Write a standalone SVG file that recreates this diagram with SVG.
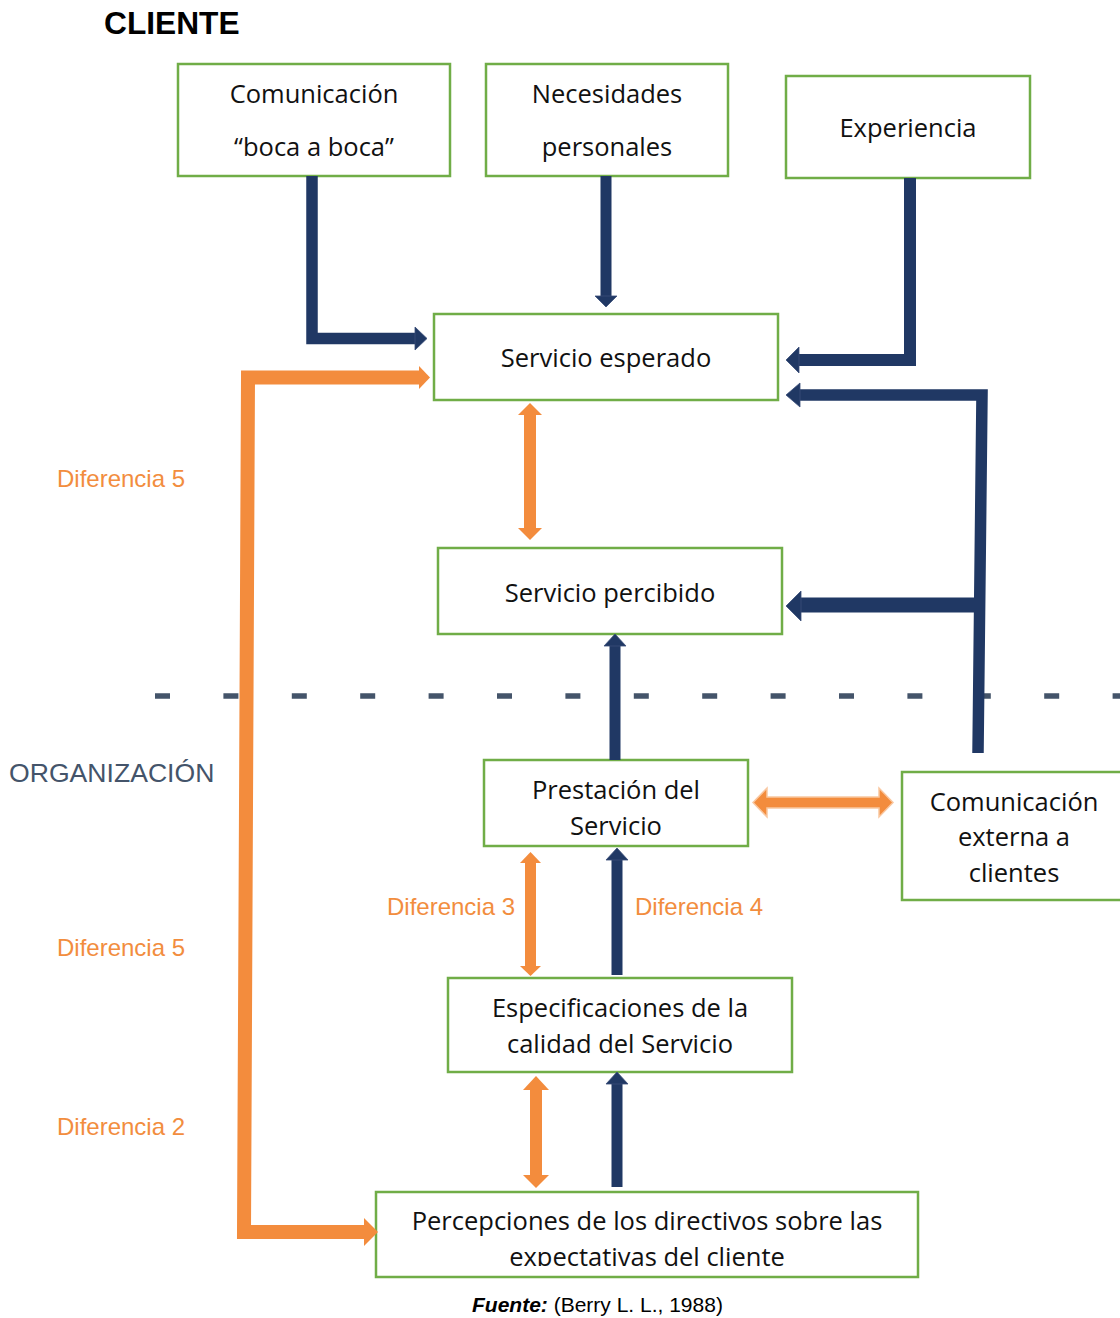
<svg xmlns="http://www.w3.org/2000/svg" width="1120" height="1318" viewBox="0 0 1120 1318">
  <style>
    .box { fill: #ffffff; stroke: #70AD47; stroke-width: 2.5; }
    .bt { font-family: "Open Sans", "Noto Sans", sans-serif; font-size: 25.5px; fill: #111111; text-anchor: middle; }
    .dif { font-family: "Liberation Sans", Arial, sans-serif; font-size: 24px; fill: #F28D3E; }
    .navy { fill: #203864; stroke: #3A4E78; stroke-width: 0.8; }
    .navyline { fill: none; stroke: #203864; stroke-linejoin: miter; stroke-linecap: butt; }
    .orange { fill: #F38C3D; }
    .orangeline { fill: none; stroke: #F38C3D; stroke-linejoin: miter; stroke-linecap: butt; }
  </style>
  <defs>
    <clipPath id="clipPercepciones">
      <rect x="376" y="1192" width="544" height="74"/>
    </clipPath>
  </defs>

  <rect width="1120" height="1318" fill="#ffffff"/>

  <!-- section labels -->
  <text x="104" y="34" font-family="Liberation Sans, Arial, sans-serif" font-size="31.7" font-weight="bold" fill="#000000">CLIENTE</text>
  <text x="9" y="782" font-family="Liberation Sans, Arial, sans-serif" font-size="26.6" fill="#44546A">ORGANIZACIÓN</text>

  <!-- client / organization boundary -->
  <line x1="155" y1="696" x2="1120" y2="696" stroke="#44546A" stroke-width="5.5" stroke-dasharray="15 53.4"/>

  <!-- gap labels -->
  <g id="labels">
    <text class="dif" x="57" y="487">Diferencia 5</text>
    <text class="dif" x="57" y="956">Diferencia 5</text>
    <text class="dif" x="57" y="1135">Diferencia 2</text>
    <text class="dif" x="387" y="915">Diferencia 3</text>
    <text class="dif" x="635" y="915">Diferencia 4</text>
  </g>

  <!-- nodes -->
  <g id="boca-a-boca">
    <rect class="box" x="178" y="64" width="272" height="112"/>
    <text class="bt" x="314" y="103">Comunicación</text>
    <text class="bt" x="314" y="156">“boca a boca”</text>
  </g>
  <g id="necesidades">
    <rect class="box" x="486" y="64" width="242" height="112"/>
    <text class="bt" x="607" y="103">Necesidades</text>
    <text class="bt" x="607" y="156">personales</text>
  </g>
  <g id="experiencia">
    <rect class="box" x="786" y="76" width="244" height="102"/>
    <text class="bt" x="908" y="137">Experiencia</text>
  </g>
  <g id="servicio-esperado">
    <rect class="box" x="434" y="314" width="344" height="86"/>
    <text class="bt" x="606" y="367">Servicio esperado</text>
  </g>
  <g id="servicio-percibido">
    <rect class="box" x="438" y="548" width="344" height="86"/>
    <text class="bt" x="610" y="602">Servicio percibido</text>
  </g>
  <g id="prestacion">
    <rect class="box" x="484" y="760" width="264" height="86"/>
    <text class="bt" x="616" y="799">Prestación del</text>
    <text class="bt" x="616" y="835">Servicio</text>
  </g>
  <g id="comunicacion-externa">
    <rect class="box" x="902" y="772" width="230" height="128"/>
    <text class="bt" x="1014" y="811">Comunicación</text>
    <text class="bt" x="1014" y="846">externa a</text>
    <text class="bt" x="1014" y="882">clientes</text>
  </g>
  <g id="especificaciones">
    <rect class="box" x="448" y="978" width="344" height="94"/>
    <text class="bt" x="620" y="1017">Especificaciones de la</text>
    <text class="bt" x="620" y="1053">calidad del Servicio</text>
  </g>
  <g id="percepciones">
    <rect class="box" x="376" y="1192" width="542" height="85"/>
    <g clip-path="url(#clipPercepciones)">
      <text class="bt" x="647" y="1230">Percepciones de los directivos sobre las</text>
      <text class="bt" x="647" y="1266">expectativas del cliente</text>
    </g>
  </g>

  <!-- connectors -->
  <g id="connectors">
    <!-- boca a boca -> servicio esperado -->
    <path class="navyline" d="M312,176 V338.5 H416" stroke-width="11.5"/>
    <polygon class="navy" points="415,327 427,338.5 415,350"/>
    <!-- necesidades -> servicio esperado -->
    <path class="navyline" d="M606,176 V297" stroke-width="11"/>
    <polygon class="navy" points="595,296 617,296 606,307"/>
    <!-- experiencia -> servicio esperado -->
    <path class="navyline" d="M910,178 V360 H798" stroke-width="12"/>
    <polygon class="navy" points="799,347 786,360 799,373"/>
    <!-- comunicación externa -> servicio esperado / percibido -->
    <path class="navyline" d="M978,753 L982,395 H798" stroke-width="11.5"/>
    <polygon class="navy" points="800,383 786,395 800,407"/>
    <path class="navyline" d="M980,605 H800" stroke-width="15"/>
    <polygon class="navy" points="801,591 786,606 801,621"/>
    <!-- prestación -> servicio percibido -->
    <path class="navyline" d="M615,760 V645" stroke-width="11"/>
    <polygon class="navy" points="604,646 615,634 626,646"/>
    <!-- especificaciones -> prestación (Diferencia 4) -->
    <path class="navyline" d="M617,975 V858" stroke-width="11"/>
    <polygon class="navy" points="606,860 617,848 628,860"/>
    <!-- percepciones -> especificaciones -->
    <path class="navyline" d="M617,1187 V1082" stroke-width="11"/>
    <polygon class="navy" points="606,1084 617,1072 628,1084"/>

    <!-- Diferencia 5: esperado <-> percibido -->
    <path class="orangeline" d="M530,414 V529" stroke-width="12"/>
    <polygon class="orange" points="518,415 530,403 542,415"/>
    <polygon class="orange" points="518,528 530,540 542,528"/>
    <!-- Diferencia 3: prestación <-> especificaciones -->
    <path class="orangeline" d="M530.5,862 V967" stroke-width="11"/>
    <polygon class="orange" points="520,863 530.5,852 541,863"/>
    <polygon class="orange" points="520,966 530.5,976 541,966"/>
    <!-- Diferencia 2: especificaciones <-> percepciones -->
    <path class="orangeline" d="M536,1088 V1176" stroke-width="12"/>
    <polygon class="orange" points="523,1090 536,1076 549,1090"/>
    <polygon class="orange" points="523,1175 536,1188 549,1175"/>
    <!-- prestación <-> comunicación externa -->
    <polygon class="orange" stroke="#F9C7A0" stroke-width="1.5" points="753,802.5 767,788 767,797 879,797 879,788 893,802.5 879,817 879,808 767,808 767,817"/>
    <!-- Diferencia 5: percepciones <-> servicio esperado -->
    <path class="orangeline" d="M420,377.5 H248 L244,1232 H365" stroke-width="14"/>
    <polygon class="orange" points="419,366 430,377.5 419,389"/>
    <polygon class="orange" points="364,1218 378,1232 364,1246"/>
  </g>

  <!-- source -->
  <text x="472" y="1312" font-family="Liberation Sans, Arial, sans-serif" font-size="21" fill="#000000"><tspan font-weight="bold" font-style="italic">Fuente:</tspan> (Berry L. L., 1988)</text>
</svg>
